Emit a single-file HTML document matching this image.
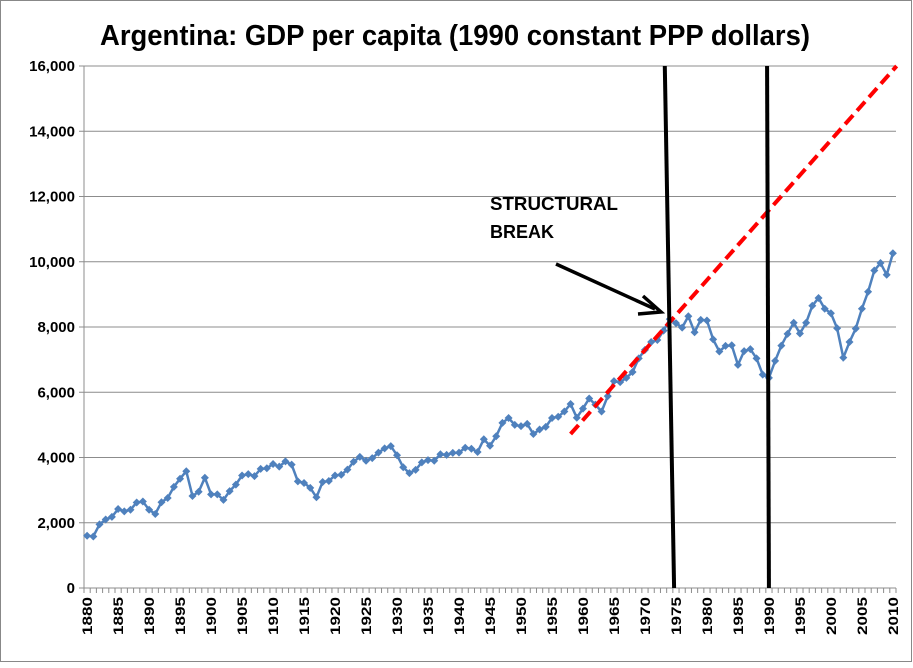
<!DOCTYPE html>
<html><head><meta charset="utf-8"><style>
body{margin:0;background:#fff;}
svg text{font-family:"Liberation Sans",sans-serif;}
</style></head><body>
<svg id="chart" width="913" height="663" xmlns="http://www.w3.org/2000/svg">
<rect x="0.5" y="0.5" width="911" height="661" fill="#fff" stroke="#888"/>
<text x="100" y="45" textLength="710" lengthAdjust="spacingAndGlyphs" font-size="29" font-weight="bold" fill="#000">Argentina: GDP per capita (1990 constant PPP dollars)</text>
<g id="grid"></g>
<g id="yaxis"></g>
<g id="xaxis"></g>
<g id="series"></g>
<g id="annot"></g>
<text x="490" y="210" font-size="18" font-weight="bold" textLength="128" lengthAdjust="spacingAndGlyphs">STRUCTURAL</text>
<text x="490" y="238" font-size="18" font-weight="bold" textLength="64" lengthAdjust="spacingAndGlyphs">BREAK</text>
</svg>
<script>
const startYear = 1880;
const gdp = [1600,1580,1950,2100,2180,2420,2350,2400,2620,2650,
2400,2270,2630,2760,3100,3350,3580,2820,2950,3380,
2870,2870,2700,2970,3170,3450,3490,3430,3650,3670,
3800,3720,3880,3780,3270,3220,3070,2780,3250,3280,
3450,3470,3630,3870,4020,3900,3980,4150,4280,4350,
4070,3700,3520,3620,3850,3920,3900,4100,4080,4140,
4150,4300,4270,4170,4560,4360,4650,5060,5210,5000,
4960,5030,4720,4860,4940,5210,5250,5410,5640,5220,
5500,5810,5620,5410,5880,6340,6310,6440,6620,7040,
7300,7540,7600,7890,8240,8120,7980,8330,7840,8220,
8200,7620,7250,7420,7440,6840,7260,7320,7040,6540,
6440,6960,7430,7790,8130,7800,8130,8650,8890,8560,
8420,7960,7060,7540,7950,8560,9080,9730,9960,9600,10260];
const yTicks = [0,2000,4000,6000,8000,10000,12000,14000,16000];
const trendYears = [1958, 2010.6];
const trendValues = [4720, 16000];
const breakLines = [[1973.2, 1974.7],[1989.7, 1990.0]];

const NS="http://www.w3.org/2000/svg";
const L=84, R=896, T=66, B=588, N=gdp.length, step=(R-L)/N;
const x=i=>L+step*(i+0.5);
const xYear=yr=>x(yr-startYear);
const y=v=>B-(v/16000)*(B-T);
function mk(tag,attrs,parent){const e=document.createElementNS(NS,tag);for(const k in attrs)e.setAttribute(k,attrs[k]);document.getElementById(parent).appendChild(e);return e;}

yTicks.forEach(v=>{
  const g=mk('line',{x1:L,x2:R,y1:y(v),y2:y(v),stroke:'#8c8c8c','stroke-width':1},'grid');
  
  
  const t=mk('text',{x:L-9,y:y(v)+5,'text-anchor':'end','font-size':15,'font-weight':'bold','font-family':'Liberation Serif, serif'},'yaxis');
  t.textContent=v.toLocaleString('en-US');
  
  
  const tk=mk('line',{x1:L-5,x2:L,y1:y(v),y2:y(v),stroke:'#8c8c8c'},'yaxis');
  
  
});
const ax=mk('line',{x1:L,x2:L,y1:T,y2:B,stroke:'#8c8c8c'},'yaxis');


for(let i=0;i<=N;i++){
  const tk=mk('line',{x1:L+step*i,x2:L+step*i,y1:B,y2:B+5,stroke:'#8c8c8c'},'xaxis');
  
  
}
for(let i=0;i<N;i+=5){
  const xx=x(i)+5, yy=B+9;
  const t=mk('text',{x:xx,y:yy,transform:`rotate(-90 ${xx} ${yy})`,'text-anchor':'end','font-size':14,'font-weight':'bold',textLength:38,lengthAdjust:'spacingAndGlyphs'},'xaxis');
  t.textContent=startYear+i;
  
  
}
const pl=mk('polyline',{points:gdp.map((v,i)=>x(i)+','+y(v)).join(' '),fill:'none',stroke:'#4f81bd','stroke-width':2.5},'series');


gdp.forEach((v,i)=>{
  const cx=x(i),cy=y(v);
  const d=mk('polygon',{points:`${cx},${cy-4} ${cx+4},${cy} ${cx},${cy+4} ${cx-4},${cy}`,fill:'#4f81bd'},'series');
  
  
});
const tr=mk('line',{x1:xYear(trendYears[0]),y1:y(trendValues[0]),x2:xYear(trendYears[1]),y2:y(trendValues[1]),stroke:'#ff0000','stroke-width':4,'stroke-dasharray':'12,6'},'annot');


breakLines.forEach(b=>{
  const l=mk('line',{x1:xYear(b[0]),y1:T,x2:xYear(b[1]),y2:B,stroke:'#000','stroke-width':4},'annot');
  
  
});
const ar=mk('line',{x1:556,y1:264,x2:655,y2:309,stroke:'#000','stroke-width':3.5},'annot');


const ah=mk('polyline',{points:'643,296 661,312 638,314',fill:'none',stroke:'#000','stroke-width':3.5},'annot');


</script>
</body></html>
